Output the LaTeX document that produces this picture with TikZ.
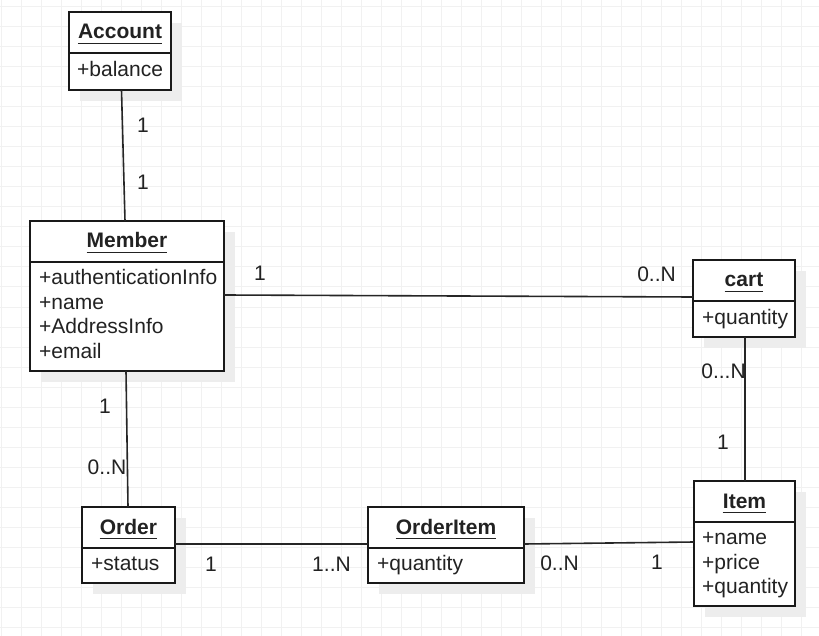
\documentclass[tikz,border=0pt]{standalone}
\usepackage{fontspec}
\setmainfont{Liberation Sans}
\usetikzlibrary{shadows}
\definecolor{gridc}{HTML}{F1F1F1}
\definecolor{shadc}{HTML}{EDEDED}
\definecolor{txt}{HTML}{222222}
\begin{document}
\begin{tikzpicture}[x=1pt,y=-1pt,
  font=\fontsize{21}{25}\selectfont, text=txt,
  cls/.style={draw=black!90, line width=2pt, fill=white, inner sep=0pt, outer sep=0pt,
    anchor=north west, general shadow={fill=shadc, shadow xshift=11pt, shadow yshift=-11pt}},
  hdr/.style={font=\fontsize{21}{25}\selectfont\bfseries, inner sep=0pt, anchor=base},
  attr/.style={inner sep=0pt, anchor=base west},
  ul/.style={line width=1.6pt, draw=txt},
  divl/.style={line width=1.6pt, draw=black!90},
  conn/.style={line width=1.6pt, draw=black!85},
  mult/.style={inner sep=0pt}]
\useasboundingbox (0,0) rectangle (819,636);
\fill[white] (0,0) rectangle (819,636);
\foreach \x in {1,21,...,819} \draw[gridc, line width=1pt] (\x,0) -- (\x,636);
\foreach \y in {7,27,...,636} \draw[gridc, line width=1pt] (0,\y) -- (819,\y);

% classes
\node[cls, minimum width=102pt, minimum height=78pt] (acct) at (69,12) {};
\node[cls, minimum width=194pt, minimum height=150pt] (mem) at (30,221) {};
\node[cls, minimum width=102pt, minimum height=77pt] (cart) at (693,260) {};
\node[cls, minimum width=93pt, minimum height=76pt] (ord) at (82,507) {};
\node[cls, minimum width=156pt, minimum height=76pt] (oi) at (368,507) {};
\node[cls, minimum width=101pt, minimum height=125pt] (item) at (694,481) {};

% dividers
\foreach \n in {acct,mem,cart,ord,oi,item}
  \draw[divl] ([yshift=-41pt]\n.north west) -- ([yshift=-41pt]\n.north east);

% headers
\node[hdr] (acct-t) at (120,39) {Account};
\node[hdr] (mem-t) at (127,248) {Member};
\node[hdr] (cart-t) at (744,287) {cart};
\node[hdr] (ord-t) at (128.5,534) {Order};
\node[hdr] (oi-t) at (446,534) {OrderItem};
\node[hdr] (item-t) at (744.5,508) {Item};
\foreach \n in {acct-t,mem-t,cart-t,ord-t,oi-t,item-t}
  \draw[ul] ([yshift=-4.5pt]\n.base west) -- ([yshift=-4.5pt]\n.base east);

% attributes
\node[attr] (acct-a1) at (77,77) {+balance};
\node[attr] (mem-a1) at (39,285) {+authenticationInfo};
\node[attr] (mem-a2) at (39,309.5) {+name};
\node[attr] (mem-a3) at (39,333.5) {+AddressInfo};
\node[attr] (mem-a4) at (39,358) {+email};
\node[attr] (cart-a1) at (702,324) {+quantity};
\node[attr] (ord-a1) at (91,570) {+status};
\node[attr] (oi-a1) at (377,570) {+quantity};
\node[attr] (item-a1) at (702,544) {+name};
\node[attr] (item-a2) at (702,569) {+price};
\node[attr] (item-a3) at (702,593) {+quantity};

% connectors
\draw[conn] ([xshift=1.5pt]acct.south) -- ([xshift=-2pt]mem.north);
\draw[conn] ([yshift=1pt]mem.east) -- ([yshift=1.5pt]cart.west);
\draw[conn] ([xshift=-1pt]mem.south) -- ([xshift=-0.5pt]ord.north);
\draw[conn] ([xshift=1pt]cart.south) -- ([xshift=0.5pt]item.north);
\draw[conn] ([yshift=1pt]ord.east) -- ([yshift=1pt]oi.west);
\draw[conn] ([yshift=1pt]oi.east) -- ([yshift=1.5pt]item.west);

% multiplicities
\node[mult] (l1) at (143,125) {1};
\node[mult] (l2) at (143,182) {1};
\node[mult] (l3) at (260,273) {1};
\node[mult] (l4) at (656.5,274) {0..N};
\node[mult] (l5) at (105,406) {1};
\node[mult] (l6) at (107,467) {0..N};
\node[mult] (l7) at (723.5,371.5) {0...N};
\node[mult] (l8) at (723,442) {1};
\node[mult] (l9) at (211,564) {1};
\node[mult] (l10) at (331.5,564) {1..N};
\node[mult] (l11) at (559.5,563.5) {0..N};
\node[mult] (l12) at (657,562) {1};
\end{tikzpicture}
\end{document}
